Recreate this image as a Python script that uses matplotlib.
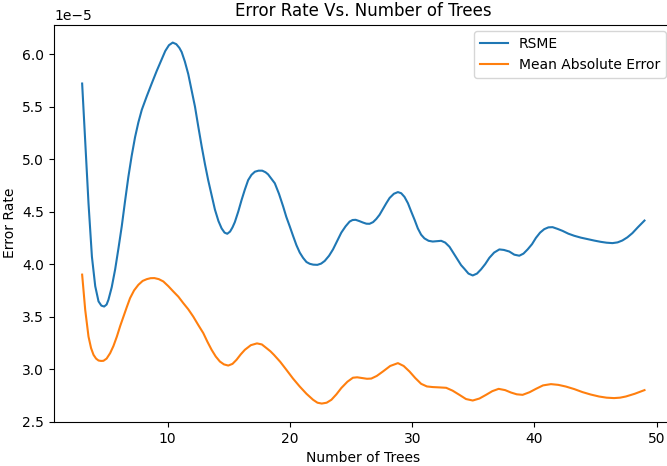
import matplotlib
matplotlib.use("Agg")
import matplotlib.pyplot as plt

# values, in units of 1e-5
rsme_x = [3.0, 3.25, 3.52, 3.80, 4.07, 4.34, 4.57, 4.80, 5.0, 5.15, 5.42, 5.70, 5.97,
          6.24, 6.51, 6.78, 7.05, 7.33, 7.60, 7.88, 8.29, 8.69, 9.10, 9.51, 9.8,
          10.1, 10.41, 10.7, 10.95, 11.14, 11.4, 11.68, 11.95, 12.23, 12.5, 12.78,
          13.05, 13.31, 13.6, 13.86, 14.15, 14.41, 14.65, 14.87, 15.1, 15.3, 15.49,
          15.77, 16.04, 16.31, 16.58, 16.85, 17.13, 17.43, 17.73, 18.0, 18.21, 18.5,
          18.76, 19.1, 19.44, 19.7, 19.98, 20.25, 20.53, 20.8, 21.07, 21.35, 21.62,
          21.9, 22.24, 22.55, 22.84, 23.2, 23.52, 23.86, 24.20, 24.55, 24.88, 25.12,
          25.37, 25.67, 25.97, 26.25, 26.51, 26.8, 27.06, 27.33, 27.60, 27.88, 28.15,
          28.5, 28.83, 29.1, 29.37, 29.65, 29.92, 30.2, 30.46, 30.73, 31.0, 31.34,
          31.68, 32.0, 32.37, 32.7, 33.05, 33.4, 33.72, 34.0, 34.27, 34.6, 34.95,
          35.3, 35.63, 35.97, 36.31, 36.7, 37.13, 37.5, 37.94, 38.35, 38.76, 39.1,
          39.44, 39.8, 40.12, 40.46, 40.80, 41.14, 41.48, 41.9, 42.29, 42.77, 43.25,
          43.8, 44.33, 44.9, 45.43, 45.9, 46.38, 46.8, 47.19, 47.6, 48.01, 48.45, 49.0]
rsme_vals = [5.72, 5.18, 4.58, 4.07, 3.79, 3.645, 3.605, 3.596, 3.615, 3.66, 3.78, 3.95,
             4.15, 4.36, 4.60, 4.83, 5.03, 5.21, 5.35, 5.47, 5.60, 5.72, 5.84, 5.95,
             6.03, 6.085, 6.11, 6.095, 6.06, 6.02, 5.93, 5.81, 5.66, 5.50, 5.31, 5.12,
             4.95, 4.80, 4.65, 4.52, 4.41, 4.34, 4.30, 4.289, 4.31, 4.35, 4.40,
             4.50, 4.61, 4.71, 4.80, 4.85, 4.88, 4.89, 4.89, 4.875, 4.855, 4.81,
             4.77, 4.67, 4.55, 4.45, 4.36, 4.27, 4.18, 4.11, 4.06, 4.02, 4.003,
             3.995, 3.993, 4.005, 4.03, 4.08, 4.14, 4.22, 4.30, 4.36, 4.405, 4.42,
             4.422, 4.41, 4.396, 4.385, 4.384, 4.40, 4.43, 4.47, 4.525, 4.58, 4.63,
             4.67, 4.686, 4.675, 4.64, 4.58, 4.50, 4.42, 4.34, 4.28, 4.245, 4.222,
             4.215, 4.218, 4.222, 4.205, 4.165, 4.10, 4.04, 3.99, 3.955, 3.91, 3.892,
             3.91, 3.95, 4.00, 4.06, 4.11, 4.14, 4.135, 4.12, 4.09, 4.08, 4.10,
             4.14, 4.19, 4.25, 4.30, 4.333, 4.35, 4.352, 4.335, 4.317, 4.29, 4.27,
             4.252, 4.238, 4.224, 4.212, 4.204, 4.20, 4.207, 4.225, 4.255, 4.295, 4.35, 4.415]

mae_x = [3.0, 3.25, 3.52, 3.73, 3.93, 4.14, 4.34, 4.54, 4.74, 5.0, 5.29, 5.56, 5.84,
         6.11, 6.38, 6.65, 6.92, 7.25, 7.60, 7.95, 8.29, 8.6, 8.91, 9.27, 9.64,
         10.05, 10.46, 10.87, 11.27, 11.68, 12.09, 12.5, 12.91, 13.25, 13.59, 13.93,
         14.27, 14.6, 14.95, 15.3, 15.63, 15.97, 16.31, 16.8, 17.30, 17.7, 18.08,
         18.4, 18.69, 19.2, 19.71, 20.25, 20.80, 21.35, 21.89, 22.25, 22.60, 23.0,
         23.39, 23.8, 24.20, 24.7, 25.15, 25.5, 25.9, 26.3, 26.65, 27.1, 27.60,
         28.2, 28.83, 29.3, 29.78, 30.25, 30.73, 31.2, 31.68, 32.2, 32.78, 33.3,
         33.86, 34.4, 34.95, 35.5, 36.04, 36.55, 37.07, 37.6, 38.08, 38.55, 39.03,
         39.6, 40.12, 40.7, 41.35, 41.95, 42.57, 43.25, 43.93, 44.6, 45.29, 45.9,
         46.51, 47.0, 47.47, 48.2, 49.0]
mae_vals = [3.90, 3.565, 3.31, 3.20, 3.136, 3.10, 3.082, 3.078, 3.079, 3.10, 3.152, 3.22, 3.31,
            3.41, 3.50, 3.59, 3.676, 3.75, 3.803, 3.84, 3.857, 3.866, 3.867, 3.857, 3.835,
            3.79, 3.739, 3.69, 3.629, 3.57, 3.50, 3.42, 3.343, 3.26, 3.184, 3.12,
            3.072, 3.045, 3.034, 3.05, 3.089, 3.14, 3.184, 3.228, 3.245, 3.235, 3.20,
            3.17, 3.136, 3.07, 2.993, 2.91, 2.834, 2.765, 2.708, 2.68, 2.672, 2.68,
            2.708, 2.76, 2.82, 2.88, 2.918, 2.922, 2.915, 2.908, 2.91, 2.935, 2.977,
            3.03, 3.057, 3.03, 2.977, 2.915, 2.86, 2.835, 2.829, 2.826, 2.822, 2.795,
            2.755, 2.715, 2.701, 2.72, 2.755, 2.79, 2.812, 2.80, 2.777, 2.76, 2.755,
            2.78, 2.812, 2.845, 2.857, 2.85, 2.834, 2.81, 2.781, 2.758, 2.739, 2.728,
            2.724, 2.728, 2.739, 2.765, 2.80]

series_labels = ["RSME", "Mean Absolute Error"]

fig = plt.figure(figsize=(6.67, 4.66), dpi=100)
ax = fig.add_axes([0.081, 0.0948, 0.9274, 0.8526])

ax.plot(rsme_x, [v * 1e-5 for v in rsme_vals], color="tab:blue", label=series_labels[0])
ax.plot(mae_x, [v * 1e-5 for v in mae_vals], color="tab:orange", label=series_labels[1])

ax.set_ylim(2.498e-5, 6.282e-5)
ax.set_title("Error Rate Vs. Number of Trees")
ax.set_xlabel("Number of Trees")
ax.set_ylabel("Error Rate")
ax.legend(loc="upper right")

fig.savefig("out.png", dpi=100)
